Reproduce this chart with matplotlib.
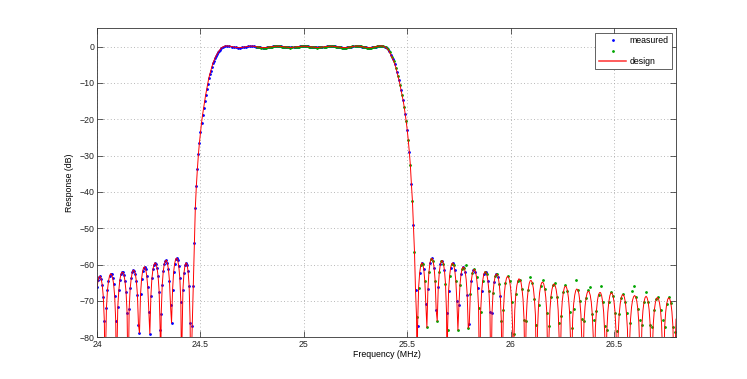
import numpy as np
import matplotlib
matplotlib.use("Agg")
import matplotlib.pyplot as plt
from matplotlib.ticker import FormatStrFormatter

# design response, (MHz, dB) pairs
design_left = [
    (24.000, -66.2), (24.005, -64.2), (24.010, -63.3), (24.015, -63.2), (24.020, -64.0),
    (24.025, -65.7), (24.030, -68.9), (24.035, -75.6), (24.039, -95.0), (24.040, -87.5),
    (24.045, -72.0), (24.050, -67.1), (24.055, -64.6), (24.060, -63.1), (24.065, -62.5),
    (24.070, -62.7), (24.075, -63.6), (24.080, -65.4), (24.085, -68.7), (24.090, -75.4),
    (24.094, -95.0), (24.095, -87.0), (24.100, -71.6), (24.105, -67.1), (24.110, -64.2),
    (24.115, -62.7), (24.120, -62.1), (24.125, -62.1), (24.130, -62.9), (24.135, -64.6),
    (24.140, -67.5), (24.145, -73.2), (24.150, -95.0), (24.155, -72.2), (24.160, -66.5),
    (24.165, -63.8), (24.170, -62.1), (24.175, -61.5), (24.180, -61.7), (24.185, -62.6),
    (24.190, -64.6), (24.195, -68.3), (24.200, -76.5), (24.205, -78.8), (24.210, -68.2),
    (24.215, -64.0), (24.220, -61.8), (24.225, -60.8), (24.230, -60.6), (24.235, -61.3),
    (24.240, -63.0), (24.245, -66.2), (24.250, -72.9), (24.255, -79.0), (24.260, -68.7),
    (24.265, -63.8), (24.270, -61.3), (24.275, -60.0), (24.280, -59.5), (24.285, -59.8),
    (24.290, -61.0), (24.295, -63.2), (24.300, -67.4), (24.305, -78.0), (24.307, -95.0),
    (24.310, -73.6), (24.315, -65.5), (24.320, -61.8), (24.325, -59.8), (24.330, -59.0),
    (24.335, -58.8), (24.340, -59.6), (24.345, -61.3), (24.350, -64.5), (24.355, -71.2),
    (24.360, -76.0), (24.365, -66.9), (24.370, -62.1), (24.375, -59.7), (24.380, -58.5),
    (24.385, -58.2), (24.390, -58.8), (24.395, -60.5), (24.400, -63.6), (24.405, -70.3),
    (24.409, -95.0), (24.410, -82.5), (24.415, -66.9), (24.420, -62.4), (24.425, -60.2),
    (24.430, -59.5), (24.435, -60.0), (24.440, -61.8), (24.445, -65.8), (24.450, -76.1),
    (24.452, -95.0), (24.455, -88.0), (24.460, -77.0), (24.465, -66.0), (24.470, -54.0),
    (24.475, -44.4), (24.480, -38.3), (24.485, -33.7), (24.490, -29.6), (24.495, -26.4),
    (24.500, -23.6), (24.505, -21.0), (24.510, -18.8), (24.515, -16.9), (24.520, -15.0),
    (24.525, -13.3), (24.530, -11.8), (24.535, -10.2), (24.540, -8.7), (24.545, -7.6),
    (24.550, -6.6), (24.555, -5.6), (24.560, -4.6), (24.565, -3.9), (24.570, -3.2),
    (24.575, -2.6), (24.580, -2.1), (24.585, -1.6), (24.590, -1.2), (24.595, -0.8),
    (24.600, -0.4),
]

design_pass = [
    (24.61, -0.05), (24.62, 0.18), (24.63, 0.19), (24.64, 0.13), (24.65, 0.015),
    (24.66, -0.115), (24.67, -0.23), (24.68, -0.29), (24.69, -0.29), (24.70, -0.23),
    (24.71, -0.13), (24.72, -0.02), (24.73, 0.085), (24.74, 0.14), (24.75, 0.14),
    (24.76, 0.085), (24.77, -0.02), (24.78, -0.13), (24.79, -0.23), (24.80, -0.29),
    (24.81, -0.29), (24.82, -0.24), (24.83, -0.15), (24.84, -0.05), (24.85, 0.04),
    (24.86, 0.09), (24.87, 0.1), (24.88, 0.09), (24.89, 0.04), (24.90, -0.04),
    (24.91, -0.11), (24.92, -0.19), (24.93, -0.24), (24.94, -0.24), (24.95, -0.19),
    (24.96, -0.11), (24.97, -0.04), (24.98, 0.04), (24.99, 0.09), (25.00, 0.1),
    (25.01, 0.09), (25.02, 0.04), (25.03, -0.04), (25.04, -0.11), (25.05, -0.19),
    (25.06, -0.24), (25.07, -0.24), (25.08, -0.19), (25.09, -0.11), (25.10, -0.04),
    (25.11, 0.04), (25.12, 0.09), (25.13, 0.1), (25.14, 0.09), (25.15, 0.04),
    (25.16, -0.05), (25.17, -0.15), (25.18, -0.24), (25.19, -0.29), (25.20, -0.29),
    (25.21, -0.23), (25.22, -0.13), (25.23, -0.02), (25.24, 0.085), (25.25, 0.14),
    (25.26, 0.14), (25.27, 0.085), (25.28, -0.02), (25.29, -0.13), (25.30, -0.23),
    (25.31, -0.29), (25.32, -0.29), (25.33, -0.23), (25.34, -0.115), (25.35, 0.015),
    (25.36, 0.13), (25.37, 0.19), (25.38, 0.18), (25.39, -0.05),
]

design_right = [
    (25.400, -0.4), (25.405, -0.7), (25.410, -1.1), (25.415, -1.6), (25.420, -2.2),
    (25.425, -2.8), (25.430, -3.4), (25.435, -4.1), (25.440, -4.9), (25.445, -5.8),
    (25.450, -6.9), (25.455, -8.1), (25.460, -9.2), (25.465, -10.5), (25.470, -12.0),
    (25.475, -13.4), (25.480, -14.8), (25.485, -16.5), (25.490, -18.5), (25.495, -20.6),
    (25.500, -23.0), (25.505, -25.8), (25.510, -29.0), (25.515, -32.6), (25.520, -37.8),
    (25.525, -42.4), (25.530, -49.2), (25.535, -56.5), (25.540, -67.0), (25.545, -74.5),
    (25.548, -95.0), (25.550, -76.8), (25.555, -66.3), (25.560, -62.3), (25.565, -60.2),
    (25.570, -59.5), (25.575, -59.8), (25.580, -61.3), (25.585, -64.6), (25.590, -70.9),
    (25.595, -77.3), (25.600, -66.8), (25.605, -62.0), (25.610, -59.5), (25.615, -58.4),
    (25.620, -58.3), (25.625, -59.0), (25.630, -60.9), (25.635, -64.5), (25.640, -72.6),
    (25.645, -75.5), (25.650, -66.2), (25.655, -62.1), (25.660, -59.9), (25.665, -59.0),
    (25.670, -58.9), (25.675, -59.7), (25.680, -61.6), (25.685, -65.2), (25.690, -73.3),
    (25.693, -95.0), (25.695, -78.0), (25.700, -67.2), (25.705, -63.0), (25.710, -60.8),
    (25.715, -59.8), (25.720, -59.5), (25.725, -60.1), (25.730, -61.6), (25.735, -64.5),
    (25.740, -70.0), (25.745, -78.0), (25.750, -71.1), (25.755, -65.6), (25.760, -62.7),
    (25.765, -61.2), (25.770, -60.6), (25.775, -60.9), (25.780, -61.9), (25.785, -64.1),
    (25.790, -68.3), (25.795, -77.5), (25.800, -76.3), (25.805, -68.1), (25.810, -64.4),
    (25.815, -62.4), (25.820, -61.5), (25.825, -61.3), (25.830, -61.9), (25.835, -63.5),
    (25.840, -66.3), (25.845, -71.9), (25.850, -95.0), (25.855, -72.9), (25.860, -67.3),
    (25.865, -64.4), (25.870, -62.7), (25.875, -62.0), (25.880, -62.0), (25.885, -62.7),
    (25.890, -64.4), (25.895, -67.3), (25.900, -72.9), (25.905, -95.0), (25.910, -73.3),
    (25.915, -67.7), (25.920, -64.9), (25.925, -63.2), (25.930, -62.6), (25.935, -62.7),
    (25.940, -63.4), (25.945, -65.4), (25.950, -68.6), (25.955, -75.6), (25.959, -95.0),
    (25.960, -87.7), (25.965, -72.6), (25.970, -67.7), (25.975, -65.1), (25.980, -63.7),
    (25.985, -63.2), (25.990, -63.5), (25.995, -64.4), (26.000, -66.5), (26.005, -70.2),
    (26.010, -78.2), (26.013, -95.0), (26.015, -83.1), (26.020, -72.5), (26.025, -68.2),
    (26.030, -65.8), (26.035, -64.5), (26.040, -63.9), (26.045, -64.1), (26.050, -64.8),
    (26.055, -66.7), (26.060, -69.5), (26.065, -75.2), (26.070, -95.0), (26.075, -75.5),
    (26.080, -69.8), (26.085, -66.9), (26.090, -65.2), (26.095, -64.4), (26.100, -64.4),
    (26.105, -65.0), (26.110, -66.5), (26.115, -69.4), (26.120, -73.9), (26.126, -95.0),
    (26.130, -77.9), (26.135, -71.2), (26.140, -67.8), (26.145, -65.9), (26.150, -65.0),
    (26.155, -64.8), (26.160, -65.3), (26.165, -66.6), (26.170, -69.0), (26.175, -73.2),
    (26.182, -95.0), (26.185, -80.8), (26.190, -72.6), (26.195, -68.8), (26.200, -66.8),
    (26.205, -65.7), (26.210, -65.3), (26.215, -65.7), (26.220, -66.8), (26.225, -68.8),
    (26.230, -72.6), (26.235, -80.8), (26.238, -95.0), (26.245, -74.1), (26.250, -69.9),
    (26.255, -67.6), (26.260, -66.3), (26.265, -65.9), (26.270, -66.2), (26.275, -67.2),
    (26.280, -69.3), (26.285, -73.0), (26.290, -81.2), (26.293, -95.0), (26.300, -74.9),
    (26.305, -70.7), (26.310, -68.4), (26.315, -67.1), (26.320, -66.7), (26.325, -67.0),
    (26.330, -68.0), (26.335, -70.1), (26.340, -73.8), (26.345, -82.0), (26.348, -95.0),
    (26.355, -75.6), (26.360, -71.5), (26.365, -69.1), (26.370, -67.8), (26.375, -67.3),
    (26.380, -67.5), (26.385, -68.4), (26.390, -70.3), (26.395, -73.7), (26.400, -80.4),
    (26.404, -95.0), (26.410, -77.2), (26.415, -72.7), (26.420, -69.8), (26.425, -68.3),
    (26.430, -67.7), (26.435, -67.7), (26.440, -68.5), (26.445, -70.2), (26.450, -73.1),
    (26.455, -78.8), (26.460, -95.0), (26.465, -78.7), (26.470, -73.1), (26.475, -70.2),
    (26.480, -68.5), (26.485, -67.8), (26.490, -67.8), (26.495, -68.5), (26.500, -70.2),
    (26.505, -73.1), (26.510, -78.7), (26.515, -95.0), (26.520, -79.4), (26.525, -73.7),
    (26.530, -70.8), (26.535, -69.1), (26.540, -68.3), (26.545, -68.3), (26.550, -68.9),
    (26.555, -70.4), (26.560, -73.3), (26.565, -77.8), (26.571, -95.0), (26.575, -81.7),
    (26.580, -75.0), (26.585, -71.6), (26.590, -69.7), (26.595, -68.8), (26.600, -68.5),
    (26.605, -68.9), (26.610, -70.0), (26.615, -72.1), (26.620, -75.9), (26.625, -84.1),
    (26.628, -95.0), (26.635, -76.7), (26.640, -72.6), (26.645, -70.3), (26.650, -69.1),
    (26.655, -68.7), (26.660, -69.1), (26.665, -70.2), (26.670, -72.5), (26.675, -76.7),
    (26.682, -95.0), (26.685, -84.5), (26.690, -76.3), (26.695, -72.5), (26.700, -70.5),
    (26.705, -69.4), (26.710, -69.0), (26.715, -69.4), (26.720, -70.5), (26.725, -72.5),
    (26.730, -76.3), (26.735, -84.5), (26.738, -95.0), (26.745, -77.1), (26.750, -73.0),
    (26.755, -70.7), (26.760, -69.5), (26.765, -69.1), (26.770, -69.5), (26.775, -70.6),
    (26.780, -72.9), (26.785, -77.1), (26.792, -95.0), (26.795, -84.8), (26.800, -75.0),
]

# measured, first sweep (blue): 5 kHz steps up to 24.6 MHz, then 10 kHz steps
blue_f = np.round(np.concatenate([np.arange(24.0, 24.6001, 0.005),
                                  np.arange(24.61, 25.9601, 0.01)]), 3)
blue_db = [
    -66.2, -64.2, -63.3, -63.2, -64.0, -65.7, -68.9, -75.6, -87.5, -72.0,
    -67.1, -64.6, -63.1, -62.5, -62.7, -63.6, -65.4, -68.7, -75.4, -87.0,
    -71.6, -67.1, -64.2, -62.7, -62.1, -62.1, -62.9, -64.6, -67.5, -73.2,
    -88.0, -72.2, -66.5, -63.8, -62.1, -61.5, -61.7, -62.6, -64.6, -68.3,
    -76.5, -78.8, -68.2, -64.0, -61.8, -60.8, -60.6, -61.3, -63.0, -66.2,
    -72.9, -79.0, -68.7, -63.8, -61.3, -60.0, -59.5, -59.8, -61.0, -63.2,
    -67.4, -78.0, -73.6, -65.5, -61.8, -59.8, -59.0, -58.8, -59.6, -61.3,
    -64.5, -71.2, -76.0, -66.9, -62.1, -59.7, -58.5, -58.2, -58.8, -60.5,
    -63.6, -70.3, -82.5, -66.9, -62.4, -60.2, -59.5, -60.0, -61.8, -65.8,
    -76.1, -88.0, -77.0, -66.0, -54.0, -44.4, -38.3, -33.7, -29.6, -26.4,
    -23.6, -21.0, -18.8, -16.9, -15.0, -13.3, -11.8, -10.2, -8.7, -7.6,
    -6.6, -5.6, -4.6, -3.9, -3.2, -2.6, -2.1, -1.6, -1.2, -0.8,
    -0.4,
    -0.05, 0.18, 0.19, 0.13, 0.015, -0.115, -0.23, -0.29, -0.29, -0.23,
    -0.13, -0.02, 0.085, 0.14, 0.14, 0.085, -0.02, -0.13, -0.23, -0.29,
    -0.29, -0.24, -0.15, -0.05, 0.04, 0.09, 0.1, 0.09, 0.04, -0.04,
    -0.11, -0.19, -0.24, -0.24, -0.19, -0.11, -0.04, 0.04, 0.09, 0.1,
    0.09, 0.04, -0.04, -0.11, -0.19, -0.24, -0.24, -0.19, -0.11, -0.04,
    0.04, 0.09, 0.1, 0.09, 0.04, -0.05, -0.15, -0.24, -0.29, -0.29,
    -0.23, -0.13, -0.02, 0.085, 0.14, 0.14, 0.085, -0.02, -0.13, -0.23,
    -0.29, -0.29, -0.23, -0.115, 0.015, 0.13, 0.19, 0.18, -0.05, -0.4,
    -1.1, -2.2, -3.4, -4.9, -6.9, -9.2, -12.0, -14.8, -18.5, -23.0,
    -29.0, -37.8, -49.2, -67.0, -76.8, -62.3, -59.5, -61.3, -70.9, -66.8,
    -59.5, -58.3, -60.9, -72.6, -66.2, -59.9, -58.9, -61.6, -73.3, -67.2,
    -60.8, -59.5, -61.6, -70.0, -71.1, -62.7, -60.6, -61.9, -68.3, -76.3,
    -64.4, -61.5, -61.9, -66.3, -88.0, -67.3, -62.7, -62.0, -64.4, -72.9,
    -73.3, -64.9, -62.6, -63.4, -68.6, -87.7,
]

# measured, second sweep (green): 10 kHz steps, offset by 5 kHz
green_f = np.round(np.arange(24.775, 26.7951, 0.01), 3)
green_db = [
    -0.075, -0.19, -0.27, -0.3, -0.27, -0.2, -0.1, 0.0, 0.07, 0.1,
    0.1, 0.07, 0.0, -0.075, -0.15, -0.22, -0.25, -0.22, -0.15, -0.075,
    0.0, 0.07, 0.1, 0.1, 0.07, 0.0, -0.075, -0.15, -0.22, -0.25,
    -0.22, -0.15, -0.075, 0.0, 0.07, 0.1, 0.1, 0.07, 0.0, -0.1,
    -0.2, -0.27, -0.3, -0.27, -0.19, -0.075, 0.04, 0.12, 0.15, 0.12,
    0.04, -0.075, -0.19, -0.27, -0.3, -0.27, -0.175, -0.05, 0.075, 0.17,
    0.2, 0.1, -0.2, -0.7, -1.6, -2.8, -4.1, -5.8, -8.1, -10.5,
    -13.4, -16.5, -20.6, -25.8, -32.6, -42.4, -56.5, -74.5, -66.3, -60.2,
    -59.8, -64.6, -77.3, -62.0, -58.4, -59.0, -64.5, -75.5, -62.1, -59.0,
    -59.7, -65.2, -78.0, -63.0, -59.8, -60.1, -64.5, -78.0, -65.6, -61.2,
    -60.9, -60.0, -77.5, -68.1, -62.4, -61.3, -63.5, -71.9, -72.9, -64.4,
    -62.0, -62.7, -67.3, -82.0, -67.7, -63.2, -62.7, -65.4, -75.6, -72.6,
    -65.1, -63.2, -64.4, -70.2, -79.0, -68.2, -64.5, -64.1, -66.7, -75.2,
    -75.5, -66.9, -63.5, -65.0, -69.4, -76.5, -71.2, -65.9, -64.2, -66.6,
    -73.2, -77.0, -68.8, -65.7, -65.0, -68.8, -76.0, -74.1, -67.6, -65.5,
    -67.2, -73.0, -77.4, -72.3, -64.1, -67.0, -70.1, -75.0, -75.6, -69.1,
    -67.0, -66.1, -73.7, -75.1, -72.7, -68.3, -65.8, -70.2, -76.9, -78.0,
    -70.2, -67.5, -68.5, -73.2, -78.3, -73.7, -69.1, -68.0, -70.4, -73.2,
    -76.0, -67.3, -65.9, -68.9, -72.1, -75.1, -76.7, -70.3, -67.6, -70.2,
    -76.7, -77.3, -72.5, -69.4, -69.0, -72.5, -75.1, -77.1, -70.7, -69.0,
    -70.6, -77.1, -78.5,
]

x_ticks = [24, 24.5, 25, 25.5, 26, 26.5]
y_ticks = [-80, -70, -60, -50, -40, -30, -20, -10, 0]
legend_labels = ['measured', '', 'design']

plt.rcParams['font.family'] = ['Liberation Sans', 'DejaVu Sans']
plt.rcParams['font.size'] = 6.3

design = np.array(design_left + design_pass + design_right)

fig = plt.figure(figsize=(7.47, 3.79), dpi=100)
ax = fig.add_axes([0.13, 0.11, 0.775, 0.815])

hb, = ax.plot(blue_f, blue_db, '.', color='b', ms=2.0, ls='none')
hg, = ax.plot(green_f, green_db, '.', color=(0, 0.65, 0), ms=2.0, ls='none')
hd, = ax.plot(design[:, 0], design[:, 1], '-', color='r', lw=0.7)

ax.set_xlim(24, 26.8)
ax.set_ylim(-80, 5)
ax.set_xticks(x_ticks)
ax.set_yticks(y_ticks)
ax.xaxis.set_major_formatter(FormatStrFormatter('%g'))
ax.grid(True, color='#a0a0a0', lw=0.6, linestyle=(0, (1, 3)))
ax.tick_params(direction='in', top=True, right=True, length=4, width=0.5,
               pad=2, colors='#222222')
for s in ax.spines.values():
    s.set_linewidth(0.6)
    s.set_color('#333333')

ax.set_xlabel('Frequency (MHz)', labelpad=1)
ax.set_ylabel('Response (dB)', labelpad=4)

leg = ax.legend([hb, hg, hd], legend_labels, loc='upper right', numpoints=1,
                fancybox=False, edgecolor='#222222', framealpha=1,
                borderaxespad=0.5, borderpad=0.4, labelspacing=0.15,
                handlelength=3.1, handletextpad=0.35)
leg.get_frame().set_linewidth(0.5)
leg.get_lines()[2].set_color('#ff3030')
leg.get_lines()[2].set_linewidth(1.1)

fig.savefig('out.png', dpi=100)
